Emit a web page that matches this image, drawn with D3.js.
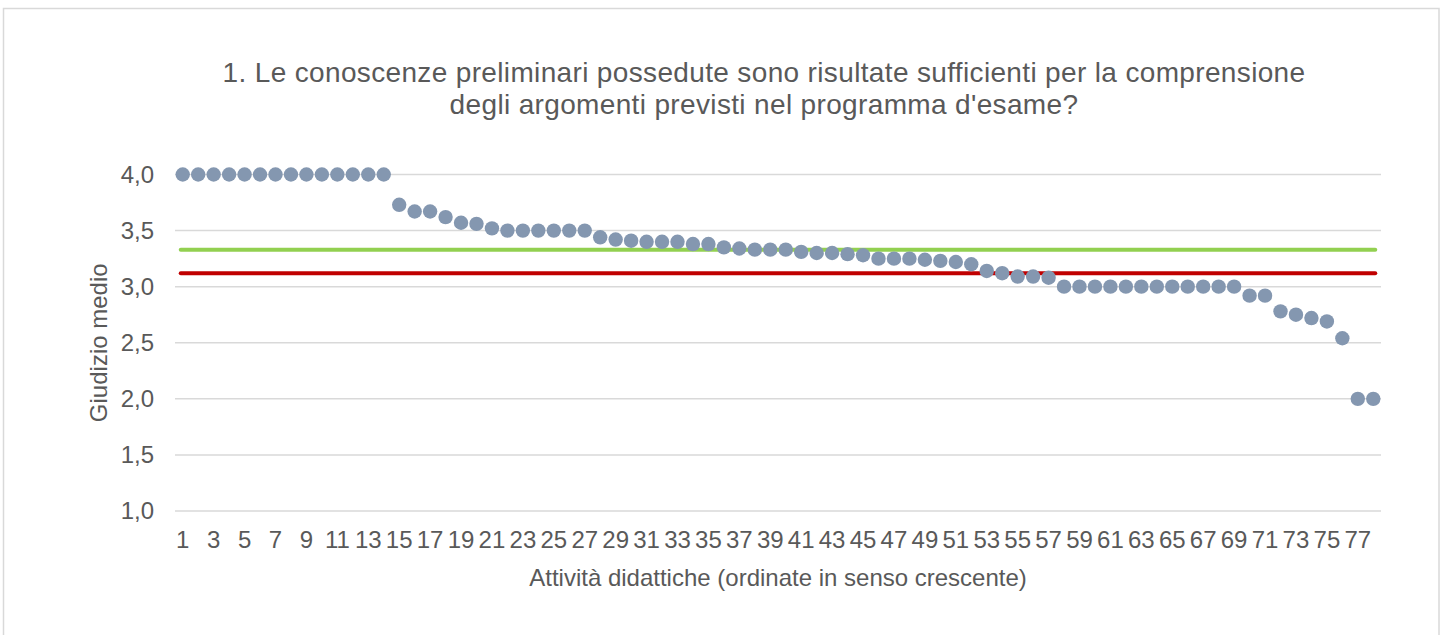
<!DOCTYPE html>
<html>
<head>
<meta charset="utf-8">
<script src="https://cdn.jsdelivr.net/npm/d3@7"></script>
<style>
  body { margin: 0; background: #fff; }
  text { font-family: 'Liberation Sans', Arial, sans-serif; fill: #595959; }
</style>
</head>
<body>
<div id="chart"></div>
<script>
const titleLines = [
  '1. Le conoscenze preliminari possedute sono risultate sufficienti per la comprensione',
  "degli argomenti previsti nel programma d'esame?"
]
const values = [
  4, 4, 4, 4, 4, 4, 4, 4, 4, 4, 4, 4, 4, 4,
  3.73, 3.67, 3.67, 3.62, 3.57, 3.56, 3.52, 3.5, 3.5, 3.5, 3.5, 3.5, 3.5,
  3.44, 3.42, 3.41, 3.4, 3.4, 3.4, 3.38, 3.38, 3.35, 3.34, 3.33, 3.33, 3.33,
  3.31, 3.3, 3.3, 3.29, 3.28, 3.25, 3.25, 3.25, 3.24, 3.23, 3.22, 3.2,
  3.14, 3.12, 3.09, 3.09, 3.08,
  3, 3, 3, 3, 3, 3, 3, 3, 3, 3, 3, 3,
  2.92, 2.92, 2.78, 2.75, 2.72, 2.69, 2.54, 2, 2
]
const categories = values.map((d, i) => i + 1)
const yTicks = [1, 1.5, 2, 2.5, 3, 3.5, 4]
const refLines = [
  { value: 3.33, color: '#92d050' },
  { value: 3.12, color: '#c00000' }
]

const width = 1445
const height = 635
const margin = { left: 175, right: 64, top: 174.5, bottom: 124 }

const svg = d3.select('#chart')
  .append('svg')
  .attr('width', width)
  .attr('height', height)

svg.append('rect')
  .attr('x', 3.5)
  .attr('y', 8.5)
  .attr('width', 1435.5)
  .attr('height', 640)
  .attr('fill', '#fff')
  .attr('stroke', '#d9d9d9')
  .attr('stroke-width', 1.5)

const x = d3.scaleBand()
  .domain(categories)
  .range([margin.left, width - margin.right])

const y = d3.scaleLinear()
  .domain([1, 4])
  .range([height - margin.bottom, margin.top])

// gridlines
svg.append('g')
  .selectAll('line')
  .data(yTicks)
  .enter()
  .append('line')
  .attr('x1', margin.left)
  .attr('x2', width - margin.right)
  .attr('y1', d => y(d))
  .attr('y2', d => y(d))
  .attr('stroke', '#d9d9d9')
  .attr('stroke-width', 1.5)

// y axis
const yAxis = svg.append('g')
  .attr('transform', `translate(${margin.left - 21}, 0)`)
  .call(d3.axisLeft(y).tickValues(yTicks).tickSize(0).tickPadding(0)
    .tickFormat(d => d3.format('.1f')(d).replace('.', ',')))
yAxis.select('.domain').remove()
yAxis.selectAll('text')
  .style('font-size', '24px')
  .attr('fill', '#595959')

// x axis
const xAxis = svg.append('g')
  .attr('transform', `translate(0, ${height - margin.bottom})`)
  .call(d3.axisBottom(x).tickValues(categories.filter(d => d % 2 === 1))
    .tickSize(0).tickPadding(20))
xAxis.select('.domain').remove()
xAxis.selectAll('text')
  .style('font-size', '24px')
  .attr('fill', '#595959')

// reference lines
svg.append('g')
  .selectAll('line')
  .data(refLines)
  .enter()
  .append('line')
  .attr('x1', x(categories[0]) + x.bandwidth() / 2 - 2)
  .attr('x2', x(categories[categories.length - 1]) + x.bandwidth() / 2 + 2)
  .attr('y1', d => y(d.value))
  .attr('y2', d => y(d.value))
  .attr('stroke', d => d.color)
  .attr('stroke-width', 4)
  .attr('stroke-linecap', 'round')

// points
svg.append('g')
  .selectAll('circle')
  .data(values)
  .enter()
  .append('circle')
  .attr('cx', (d, i) => x(categories[i]) + x.bandwidth() / 2)
  .attr('cy', d => y(d))
  .attr('r', 7.2)
  .attr('fill', '#8497b0')

// titles
svg.append('g')
  .selectAll('text')
  .data(titleLines)
  .enter()
  .append('text')
  .attr('x', 764)
  .attr('y', (d, i) => 82 + i * 31.5)
  .attr('text-anchor', 'middle')
  .style('font-size', '28px')
  .style('letter-spacing', '0.35px')
  .text(d => d)

svg.append('text')
  .attr('x', (margin.left + width - margin.right) / 2)
  .attr('y', 586)
  .attr('text-anchor', 'middle')
  .style('font-size', '24px')
  .text('Attività didattiche (ordinate in senso crescente)')

svg.append('text')
  .attr('transform', `translate(107, ${(y(1) + y(4)) / 2}) rotate(-90)`)
  .attr('text-anchor', 'middle')
  .style('font-size', '24px')
  .text('Giudizio medio')
</script>
</body>
</html>
